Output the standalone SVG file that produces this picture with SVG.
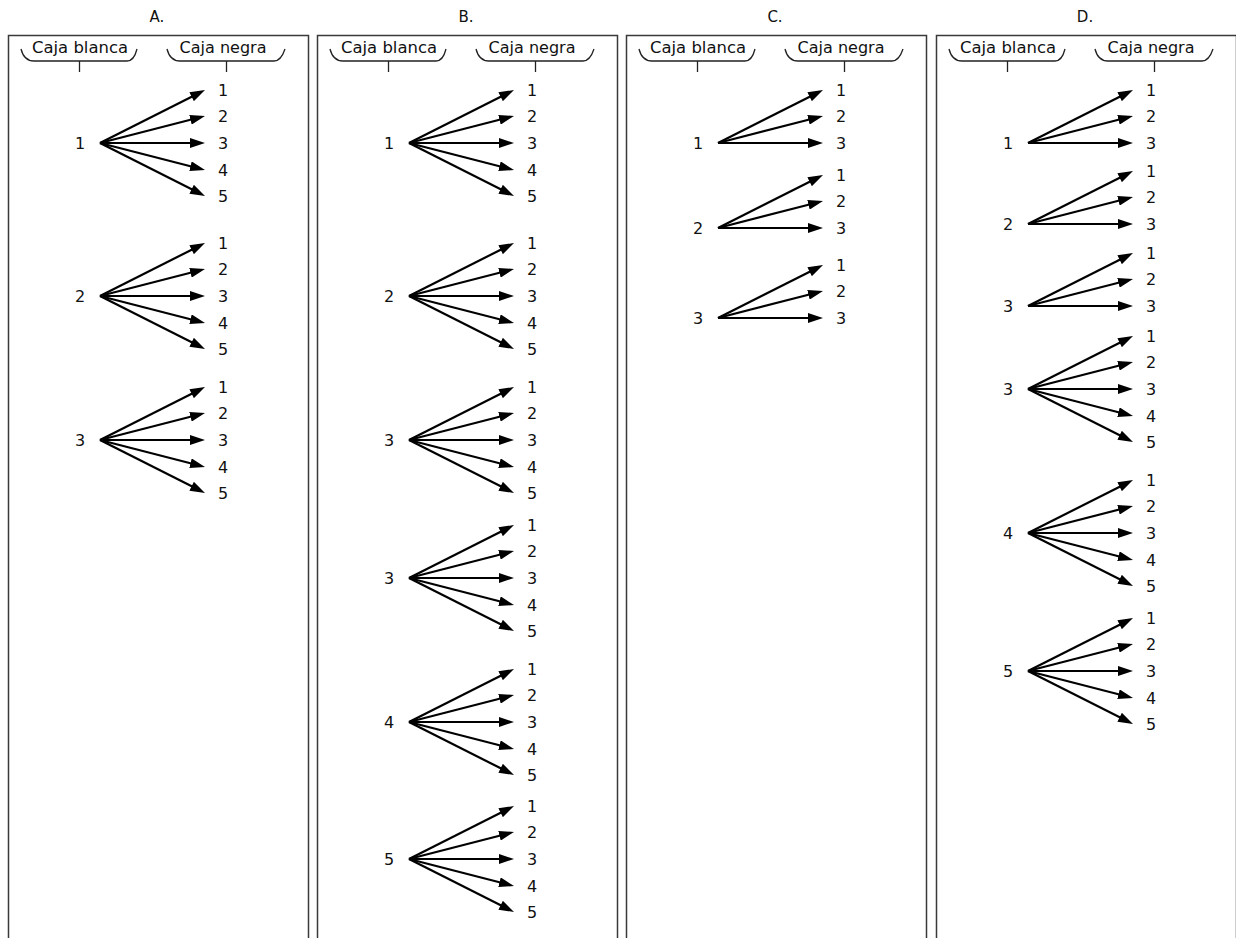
<svg xmlns="http://www.w3.org/2000/svg" xmlns:xlink="http://www.w3.org/1999/xlink" width="1236" height="938" viewBox="0 0 1236 938">
<style>
.frame{fill:none;stroke:#3a3a3a;stroke-width:1.5}
.brace{fill:none;stroke:#222;stroke-width:1.3}
.hd{font-family:"DejaVu Sans",sans-serif;font-size:15px;fill:#111;text-anchor:middle}
.ttl{font-family:"DejaVu Sans",sans-serif;font-size:15px;fill:#111;text-anchor:middle}
.n{font-family:"DejaVu Sans",sans-serif;font-size:16px;fill:#111;text-anchor:middle}
.a{stroke:#000;stroke-width:2.2;fill:none;marker-end:url(#ah)}
</style>
<defs>
<marker id="ah" markerUnits="userSpaceOnUse" markerWidth="15" markerHeight="10" refX="4" refY="5" orient="auto">
<path d="M0,0 L15,5 L0,10 z" fill="#000"/>
</marker>
<g id="fan5">
<line class="a" x1="20" y1="0" x2="115.18" y2="-48.04"/>
<line class="a" x1="20" y1="0" x2="114.34" y2="-24.26"/>
<line class="a" x1="20" y1="0" x2="114" y2="0"/>
<line class="a" x1="20" y1="0" x2="114.34" y2="24.26"/>
<line class="a" x1="20" y1="0" x2="115.18" y2="48.04"/>
</g>
<g id="fan3">
<line class="a" x1="20" y1="0" x2="115.18" y2="-48.04"/>
<line class="a" x1="20" y1="0" x2="114.34" y2="-24.26"/>
<line class="a" x1="20" y1="0" x2="114" y2="0"/>
</g>
<g id="hdr">
<path class="frame" d="M8.5,940 V35.5 H308.5 V940"/>
<path class="brace" d="M21,49 Q24,61 34,61 L127,61 Q134,61 137,49"/>
<path class="brace" d="M79.5,61 V72"/>
<path class="brace" d="M167,49 Q170,61 180,61 L274,61 Q281,61 285,49"/>
<path class="brace" d="M226.5,61 V72"/>
</g>
</defs>

<g id="panels">
<g id="panelA">
<use href="#hdr"/>
<text class="ttl" x="157" y="22">A.</text>
<text class="hd" x="80" y="53" textLength="96" lengthAdjust="spacingAndGlyphs">Caja blanca</text>
<text class="hd" x="223" y="53" textLength="87" lengthAdjust="spacingAndGlyphs">Caja negra</text>
</g>
<g id="panelB" transform="translate(309,0)">
<use href="#hdr"/>
<text class="ttl" x="157" y="22">B.</text>
<text class="hd" x="80" y="53" textLength="96" lengthAdjust="spacingAndGlyphs">Caja blanca</text>
<text class="hd" x="223" y="53" textLength="87" lengthAdjust="spacingAndGlyphs">Caja negra</text>
</g>
<g id="panelC" transform="translate(618,0)">
<use href="#hdr"/>
<text class="ttl" x="157" y="22">C.</text>
<text class="hd" x="80" y="53" textLength="96" lengthAdjust="spacingAndGlyphs">Caja blanca</text>
<text class="hd" x="223" y="53" textLength="87" lengthAdjust="spacingAndGlyphs">Caja negra</text>
</g>
<g id="panelD" transform="translate(928,0)">
<use href="#hdr"/>
<text class="ttl" x="157" y="22">D.</text>
<text class="hd" x="80" y="53" textLength="96" lengthAdjust="spacingAndGlyphs">Caja blanca</text>
<text class="hd" x="223" y="53" textLength="87" lengthAdjust="spacingAndGlyphs">Caja negra</text>
</g>
</g>

<g id="connectors">
<use href="#fan5" transform="translate(80,143)"/>
<use href="#fan5" transform="translate(80,296)"/>
<use href="#fan5" transform="translate(80,440)"/>
<use href="#fan5" transform="translate(389,143)"/>
<use href="#fan5" transform="translate(389,296)"/>
<use href="#fan5" transform="translate(389,440)"/>
<use href="#fan5" transform="translate(389,578)"/>
<use href="#fan5" transform="translate(389,722)"/>
<use href="#fan5" transform="translate(389,859)"/>
<use href="#fan3" transform="translate(698,143)"/>
<use href="#fan3" transform="translate(698,228)"/>
<use href="#fan3" transform="translate(698,318)"/>
<use href="#fan3" transform="translate(1008,143)"/>
<use href="#fan3" transform="translate(1008,224)"/>
<use href="#fan3" transform="translate(1008,306)"/>
<use href="#fan5" transform="translate(1008,389)"/>
<use href="#fan5" transform="translate(1008,533)"/>
<use href="#fan5" transform="translate(1008,671)"/>
</g>

<g id="A1" transform="translate(80,143)"><text class="n" x="0" y="6">1</text><text class="n" x="143" y="-47">1</text><text class="n" x="143" y="-21">2</text><text class="n" x="143" y="6">3</text><text class="n" x="143" y="33">4</text><text class="n" x="143" y="59">5</text></g>
<g id="A2" transform="translate(80,296)"><text class="n" x="0" y="6">2</text><text class="n" x="143" y="-47">1</text><text class="n" x="143" y="-21">2</text><text class="n" x="143" y="6">3</text><text class="n" x="143" y="33">4</text><text class="n" x="143" y="59">5</text></g>
<g id="A3" transform="translate(80,440)"><text class="n" x="0" y="6">3</text><text class="n" x="143" y="-47">1</text><text class="n" x="143" y="-21">2</text><text class="n" x="143" y="6">3</text><text class="n" x="143" y="33">4</text><text class="n" x="143" y="59">5</text></g>

<g id="B1" transform="translate(389,143)"><text class="n" x="0" y="6">1</text><text class="n" x="143" y="-47">1</text><text class="n" x="143" y="-21">2</text><text class="n" x="143" y="6">3</text><text class="n" x="143" y="33">4</text><text class="n" x="143" y="59">5</text></g>
<g id="B2" transform="translate(389,296)"><text class="n" x="0" y="6">2</text><text class="n" x="143" y="-47">1</text><text class="n" x="143" y="-21">2</text><text class="n" x="143" y="6">3</text><text class="n" x="143" y="33">4</text><text class="n" x="143" y="59">5</text></g>
<g id="B3" transform="translate(389,440)"><text class="n" x="0" y="6">3</text><text class="n" x="143" y="-47">1</text><text class="n" x="143" y="-21">2</text><text class="n" x="143" y="6">3</text><text class="n" x="143" y="33">4</text><text class="n" x="143" y="59">5</text></g>
<g id="B4" transform="translate(389,578)"><text class="n" x="0" y="6">3</text><text class="n" x="143" y="-47">1</text><text class="n" x="143" y="-21">2</text><text class="n" x="143" y="6">3</text><text class="n" x="143" y="33">4</text><text class="n" x="143" y="59">5</text></g>
<g id="B5" transform="translate(389,722)"><text class="n" x="0" y="6">4</text><text class="n" x="143" y="-47">1</text><text class="n" x="143" y="-21">2</text><text class="n" x="143" y="6">3</text><text class="n" x="143" y="33">4</text><text class="n" x="143" y="59">5</text></g>
<g id="B6" transform="translate(389,859)"><text class="n" x="0" y="6">5</text><text class="n" x="143" y="-47">1</text><text class="n" x="143" y="-21">2</text><text class="n" x="143" y="6">3</text><text class="n" x="143" y="33">4</text><text class="n" x="143" y="59">5</text></g>

<g id="C1" transform="translate(698,143)"><text class="n" x="0" y="6">1</text><text class="n" x="143" y="-47">1</text><text class="n" x="143" y="-21">2</text><text class="n" x="143" y="6">3</text></g>
<g id="C2" transform="translate(698,228)"><text class="n" x="0" y="6">2</text><text class="n" x="143" y="-47">1</text><text class="n" x="143" y="-21">2</text><text class="n" x="143" y="6">3</text></g>
<g id="C3" transform="translate(698,318)"><text class="n" x="0" y="6">3</text><text class="n" x="143" y="-47">1</text><text class="n" x="143" y="-21">2</text><text class="n" x="143" y="6">3</text></g>

<g id="D1" transform="translate(1008,143)"><text class="n" x="0" y="6">1</text><text class="n" x="143" y="-47">1</text><text class="n" x="143" y="-21">2</text><text class="n" x="143" y="6">3</text></g>
<g id="D2" transform="translate(1008,224)"><text class="n" x="0" y="6">2</text><text class="n" x="143" y="-47">1</text><text class="n" x="143" y="-21">2</text><text class="n" x="143" y="6">3</text></g>
<g id="D3" transform="translate(1008,306)"><text class="n" x="0" y="6">3</text><text class="n" x="143" y="-47">1</text><text class="n" x="143" y="-21">2</text><text class="n" x="143" y="6">3</text></g>
<g id="D4" transform="translate(1008,389)"><text class="n" x="0" y="6">3</text><text class="n" x="143" y="-47">1</text><text class="n" x="143" y="-21">2</text><text class="n" x="143" y="6">3</text><text class="n" x="143" y="33">4</text><text class="n" x="143" y="59">5</text></g>
<g id="D5" transform="translate(1008,533)"><text class="n" x="0" y="6">4</text><text class="n" x="143" y="-47">1</text><text class="n" x="143" y="-21">2</text><text class="n" x="143" y="6">3</text><text class="n" x="143" y="33">4</text><text class="n" x="143" y="59">5</text></g>
<g id="D6" transform="translate(1008,671)"><text class="n" x="0" y="6">5</text><text class="n" x="143" y="-47">1</text><text class="n" x="143" y="-21">2</text><text class="n" x="143" y="6">3</text><text class="n" x="143" y="33">4</text><text class="n" x="143" y="59">5</text></g>
</svg>
